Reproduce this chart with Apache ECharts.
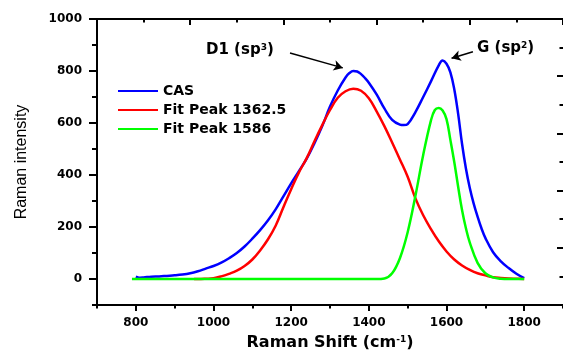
<!DOCTYPE html>
<html>
<head>
<meta charset="utf-8">
<script src="https://cdn.jsdelivr.net/npm/echarts@6/dist/echarts.min.js"></script>
<style>html,body{margin:0;padding:0;background:#fff}#c{width:563px;height:352px}</style>
</head>
<body>
<div id="c"></div>
<script>
// ---- data ----
const casX = [800,810,820,840,860,880,900,920,940,960,980,1000,1020,1040,1060,1080,1100,1120,1140,1160,1180,1200,1220,1240,1260,1280,1300,1320,1340,1350,1360,1370,1380,1390,1400,1420,1440,1460,1480,1490,1500,1520,1540,1560,1580,1590,1600,1610,1620,1630,1640,1650,1660,1670,1680,1690,1700,1720,1740,1760,1780,1800];
const casY = [9,5,6,9,10,12,14,17,22,30,40,50,63,80,100,125,155,188,225,268,318,368,415,463,522,588,663,725,775,792,800,798,788,773,755,710,656,612,594,592,596,642,700,760,822,840,828,795,730,635,520,425,350,290,240,195,158,103,68,42,20,3];
const p1X = [950,960,980,1000,1020,1040,1060,1080,1100,1120,1140,1160,1180,1200,1220,1240,1260,1280,1300,1320,1340,1360,1380,1400,1420,1440,1460,1480,1500,1520,1540,1560,1580,1600,1620,1640,1660,1680,1700,1720,1740,1760,1780,1800];
const p1Y = [0,0,1,3,10,20,32,50,75,110,152,205,276,345,410,465,530,592,650,697,722,732,724,695,645,588,525,460,393,310,245,192,145,106,75,52,35,22,14,7,4,2,1,0];
const p2X = [790,900,1000,1100,1200,1300,1400,1420,1440,1460,1480,1500,1520,1540,1560,1570,1580,1590,1600,1610,1620,1630,1640,1650,1660,1680,1700,1720,1740,1760,1780,1800];
const p2Y = [0,0,0,0,0,0,0,0,2,22,80,180,320,477,610,650,658,648,615,535,450,355,265,195,140,62,22,6,1,0,0,0];
const seriesNames = ['CAS', 'Fit Peak 1362.5', 'Fit Peak 1586'];
const xLabelValues = [800,1000,1200,1400,1600,1800];
const yLabelValues = [0,200,400,600,800,1000];
const d1Arrow = [[1197,869],[1333,812]];
const gArrow = [[1668,874],[1613,849]];

const pairs = (xs, ys) => xs.map((x, i) => [x, ys[i]]);
const BOLD = 'DejaVu Sans';
const plain = v => String(v);

const chart = echarts.init(document.getElementById('c'), null, {renderer: 'canvas'});
const blackLine = {color: '#000', width: 2};
chart.setOption({
  animation: false,
  backgroundColor: '#fff',
  grid: {left: 97, right: 0, top: 19, bottom: 47, outerBoundsMode: 'none', containLabel: false},
  legend: {
    left: 117, top: 84, padding: 0, orient: 'vertical', itemWidth: 40, itemHeight: 14, itemGap: 5,
    itemStyle: {opacity: 0},
    textStyle: {fontFamily: BOLD, fontWeight: 'bold', fontSize: 14, color: '#000'},
    data: seriesNames
  },
  xAxis: [
    {type: 'value', position: 'bottom', min: 700, max: 1900,
     axisLine: {onZero: false, lineStyle: blackLine},
     axisTick: {customValues: xLabelValues, length: 6, lineStyle: blackLine},
     axisLabel: {customValues: xLabelValues, formatter: plain, margin: 12, color: '#000', fontFamily: BOLD, fontWeight: 'bold', fontSize: 12},
     splitLine: {show: false},
     name: '{b|Raman Shift (cm}{s|-1}{b|)}', nameLocation: 'middle', nameGap: 30,
     nameTextStyle: {rich: {
       b: {fontFamily: BOLD, fontWeight: 'bold', fontSize: 16, color: '#000'},
       s: {fontFamily: BOLD, fontWeight: 'bold', fontSize: 9, color: '#000', verticalAlign: 'top'}
     }}},
    {type: 'value', position: 'bottom', min: 700, max: 1900, interval: 100,
     axisLine: {show: false, onZero: false}, axisLabel: {show: false}, splitLine: {show: false},
     axisTick: {length: 3.5, lineStyle: blackLine}},
    {type: 'value', position: 'top', min: 0, max: 10, interval: 2,
     axisLine: {onZero: false, lineStyle: blackLine}, axisLabel: {show: false}, splitLine: {show: false},
     axisTick: {inside: true, length: 6, lineStyle: blackLine},
     minorTick: {show: true, splitNumber: 2, length: 3.5, lineStyle: blackLine}}
  ],
  yAxis: [
    {type: 'value', position: 'left', min: -100, max: 1000,
     axisLine: {show: true, onZero: false, lineStyle: blackLine},
     axisTick: {show: true, customValues: yLabelValues, length: 8, lineStyle: blackLine},
     axisLabel: {customValues: yLabelValues, formatter: plain, margin: 15, color: '#000', fontFamily: BOLD, fontWeight: 'bold', fontSize: 12},
     splitLine: {show: false},
     name: 'Raman intensity', nameLocation: 'middle', nameRotate: 90, nameGap: 67,
     nameTextStyle: {fontFamily: 'Liberation Sans', fontSize: 16, color: '#000'}},
    {type: 'value', position: 'left', min: -100, max: 1000, interval: 100,
     axisLine: {show: false, onZero: false}, axisLabel: {show: false}, splitLine: {show: false},
     axisTick: {show: true, length: 5, lineStyle: blackLine}},
    {type: 'value', position: 'right', min: 0, max: 10, interval: 2,
     axisLine: {show: false, onZero: false}, axisLabel: {show: false}, splitLine: {show: false},
     axisTick: {show: true, inside: true, length: 6, lineStyle: blackLine},
     minorTick: {show: true, splitNumber: 2, length: 3.5, lineStyle: blackLine}}
  ],
  series: [
    {name: seriesNames[0], type: 'line', smooth: 0.4, symbol: 'none', color: '#0000ff',
     lineStyle: {width: 2.5, color: '#0000ff'}, data: pairs(casX, casY), z: 3,
     markLine: {silent: true, symbol: ['none', 'arrow'], symbolSize: [8, 9], animation: false,
       label: {show: false}, lineStyle: {color: '#000', width: 1.5, type: 'solid'},
       data: [
         [{coord: d1Arrow[0]}, {coord: d1Arrow[1]}],
         [{coord: gArrow[0]}, {coord: gArrow[1]}]
       ]}},
    {name: seriesNames[1], type: 'line', smooth: 0.4, symbol: 'none', color: '#ff0000',
     lineStyle: {width: 2.5, color: '#ff0000'}, data: pairs(p1X, p1Y), z: 4},
    {name: seriesNames[2], type: 'line', smooth: 0.4, symbol: 'none', color: '#00ff00',
     lineStyle: {width: 2.5, color: '#00ff00'}, data: pairs(p2X, p2Y), z: 5}
  ],
  graphic: [
    {type: 'text', left: 206, top: 43, style: {
      text: '{b|D1 (sp}{s|3}{b|)}',
      rich: {
        b: {fontFamily: BOLD, fontWeight: 'bold', fontSize: 15, fill: '#000'},
        s: {fontFamily: BOLD, fontWeight: 'bold', fontSize: 9, fill: '#000', verticalAlign: 'top'}
      }}},
    {type: 'text', left: 477, top: 41, style: {
      text: '{b|G (sp}{s|2}{b|)}',
      rich: {
        b: {fontFamily: BOLD, fontWeight: 'bold', fontSize: 15, fill: '#000'},
        s: {fontFamily: BOLD, fontWeight: 'bold', fontSize: 9, fill: '#000', verticalAlign: 'top'}
      }}}
  ]
});
</script>
</body>
</html>
